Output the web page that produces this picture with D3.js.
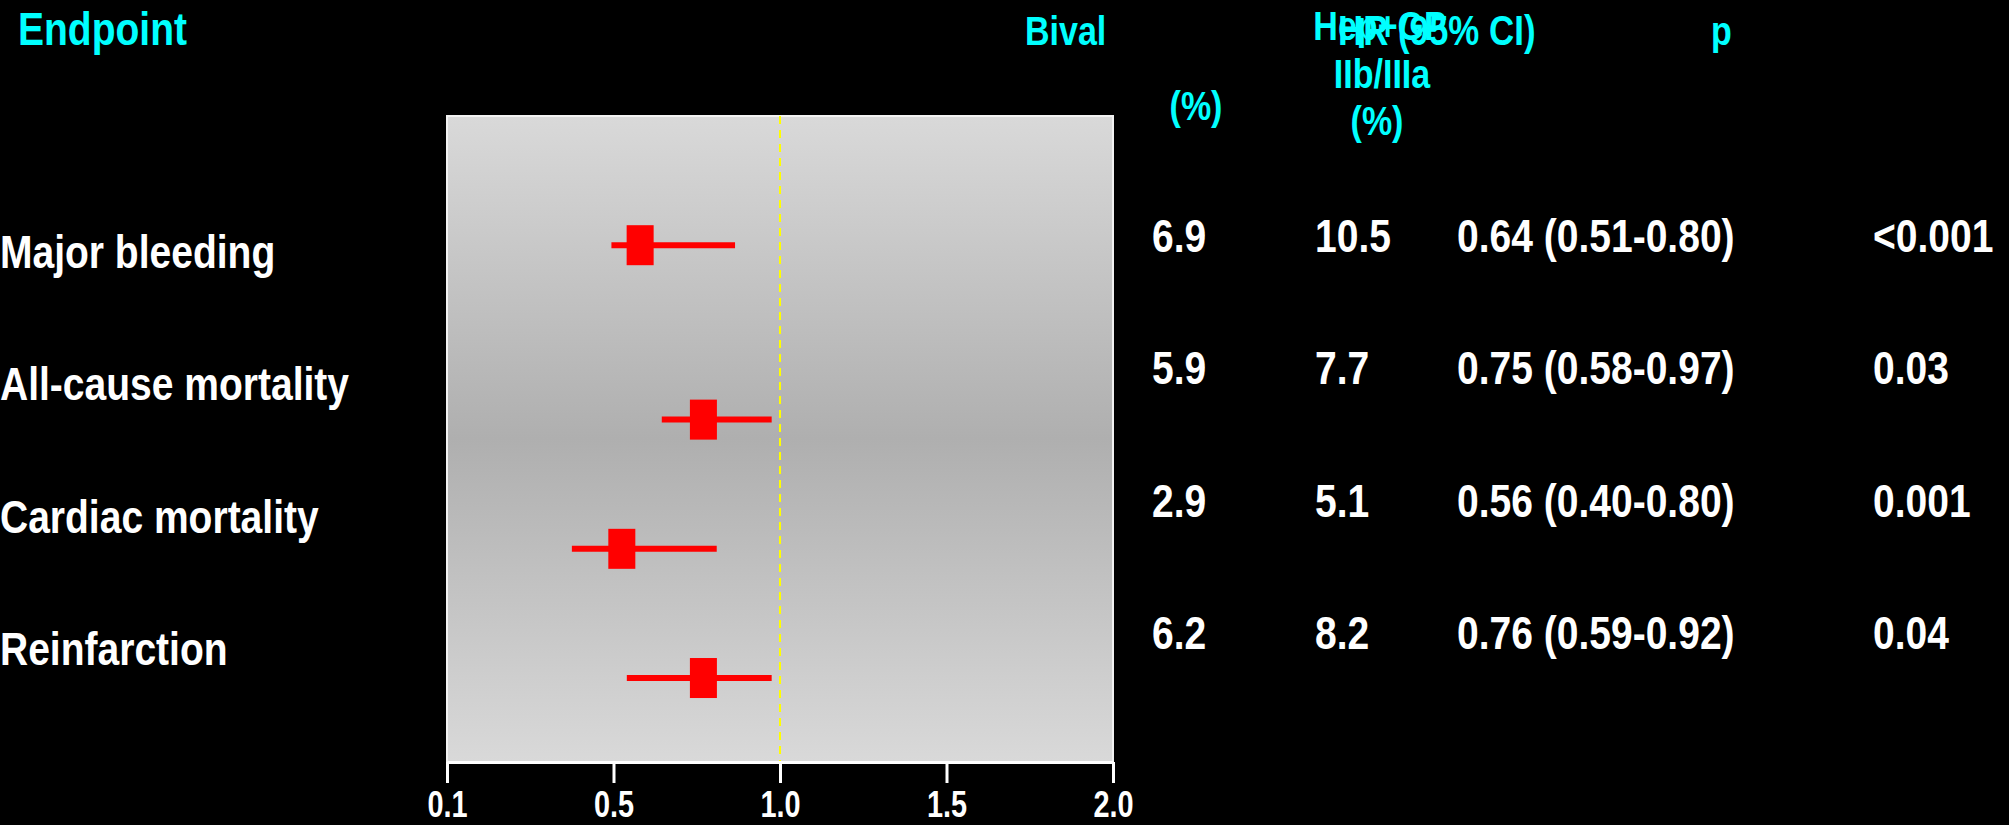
<!DOCTYPE html>
<html>
<head>
<meta charset="utf-8">
<script src="https://cdn.jsdelivr.net/npm/d3@7/dist/d3.min.js"></script>
<style>
  body { margin: 0; background: #000; }
  svg text { font-family: "Liberation Sans", Arial, sans-serif; font-weight: bold; }
</style>
</head>
<body>
<div id="chart"></div>
<script>
// endpoints and table values
var endpoints = ["Major bleeding", "All-cause mortality", "Cardiac mortality", "Reinfarction"];
var bival = ["6.9", "5.9", "2.9", "6.2"];
var hepGp = ["10.5", "7.7", "5.1", "8.2"];
var hrText = ["0.64 (0.51-0.80)", "0.75 (0.58-0.97)", "0.56 (0.40-0.80)", "0.76 (0.59-0.92)"];
var pText = ["<0.001", "0.03", "0.001", "0.04"];

// plotted markers (axis units)
var hrPoint = [0.58, 0.77, 0.525, 0.77];
var ciLow = [0.495, 0.645, 0.40, 0.54];
var ciHigh = [0.865, 0.975, 0.81, 0.975];
var rowPos = [2.0, 4.7, 6.7, 8.7];   // vertical position inside the plot, 0 = top, 10 = bottom

var tickValues = [0.1, 0.5, 1.0, 1.5, 2.0];

var W = 2009, H = 825;
var plot = {left: 447, right: 1113, top: 116, bottom: 762};
var narrow = 0.83;   // no Arial Narrow installed, squeeze Liberation Sans instead

var svg = d3.select("#chart").append("svg")
    .attr("width", W)
    .attr("height", H)
    .style("background", "#000");

// ticks are evenly spaced even though values are not
var x = d3.scaleLinear()
    .domain(tickValues)
    .range(tickValues.map(function(d, i) {
        return plot.left + i * (plot.right - plot.left) / (tickValues.length - 1);
    }));
var y = d3.scaleLinear().domain([0, 10]).range([plot.top, plot.bottom]);

var defs = svg.append("defs");
var grad = defs.append("linearGradient")
    .attr("id", "bg").attr("x1", 0).attr("y1", 0).attr("x2", 0).attr("y2", 1);
grad.append("stop").attr("offset", "0%").attr("stop-color", "#d9d9d9");
grad.append("stop").attr("offset", "50%").attr("stop-color", "#afafaf");
grad.append("stop").attr("offset", "100%").attr("stop-color", "#d9d9d9");

svg.append("rect")
    .attr("x", plot.left)
    .attr("y", plot.top)
    .attr("width", plot.right - plot.left)
    .attr("height", plot.bottom - plot.top)
    .attr("fill", "url(#bg)")
    .attr("stroke", "#f2f2f2")
    .attr("stroke-width", 2);

// reference line at HR = 1
svg.append("line")
    .attr("x1", x(1)).attr("x2", x(1))
    .attr("y1", plot.top).attr("y2", plot.bottom)
    .attr("stroke", "#ffff00")
    .attr("stroke-width", 2)
    .attr("stroke-dasharray", "8,6");

var rows = d3.range(endpoints.length);

svg.append("g").selectAll("line")
    .data(rows)
    .enter().append("line")
    .attr("x1", function(i) { return x(ciLow[i]); })
    .attr("x2", function(i) { return x(ciHigh[i]); })
    .attr("y1", function(i) { return y(rowPos[i]); })
    .attr("y2", function(i) { return y(rowPos[i]); })
    .attr("stroke", "#ff0000")
    .attr("stroke-width", 6);

var boxW = 27, boxH = 40;
svg.append("g").selectAll("rect")
    .data(rows)
    .enter().append("rect")
    .attr("x", function(i) { return x(hrPoint[i]) - boxW / 2; })
    .attr("y", function(i) { return y(rowPos[i]) - boxH / 2; })
    .attr("width", boxW)
    .attr("height", boxH)
    .attr("fill", "#ff0000");

// x axis
var axis = svg.append("g")
    .attr("transform", "translate(0," + plot.bottom + ")")
    .call(d3.axisBottom(x)
        .tickValues(tickValues)
        .tickFormat(d3.format(".1f"))
        .tickSize(21)
        .tickSizeOuter(0)
        .tickPadding(0));
axis.select(".domain").attr("stroke", "#fff").attr("stroke-width", 3);
axis.selectAll(".tick line").attr("stroke", "#fff").attr("stroke-width", 3);
axis.selectAll(".tick text")
    .attr("fill", "#fff")
    .attr("y", 55)
    .attr("dy", null)
    .attr("transform", "scale(0.78,1)")
    .style("font-size", "37px")
    .style("font-family", null);

// headers
var cyan = "#00ffff";
function header(txt, xx, yy, size, anchor) {
    svg.append("text")
        .attr("transform", "translate(" + xx + "," + yy + ") scale(" + narrow + ",1)")
        .attr("fill", cyan)
        .attr("text-anchor", anchor || "start")
        .style("font-size", size + "px")
        .text(txt);
}
header("Endpoint", 18, 45, 47);
header("Bival", 1025, 45, 41);
header("(%)", 1196, 120, 41, "middle");
header("Hep+GP", 1380, 40, 41, "middle");
header("IIb/IIIa", 1382, 88, 41, "middle");
header("(%)", 1377, 135, 41, "middle");
header("HR (95% CI)", 1338, 45, 42);
header("p", 1711, 45, 41);

// row labels and table columns
var labelY = function(i) { return 268 + i * 132.3; };
var valueY = function(i) { return 252 + i * 132.3; };

function column(arr, xx, yf) {
    svg.append("g").selectAll("text")
        .data(arr)
        .enter().append("text")
        .attr("transform", function(d, i) {
            return "translate(" + xx + "," + yf(i) + ") scale(" + narrow + ",1)";
        })
        .attr("fill", "#fff")
        .style("font-size", "47px")
        .text(function(d) { return d; });
}
column(endpoints, 0, labelY);
column(bival, 1152, valueY);
column(hepGp, 1315, valueY);
column(hrText, 1457, valueY);
column(pText, 1873, valueY);
</script>
</body>
</html>
